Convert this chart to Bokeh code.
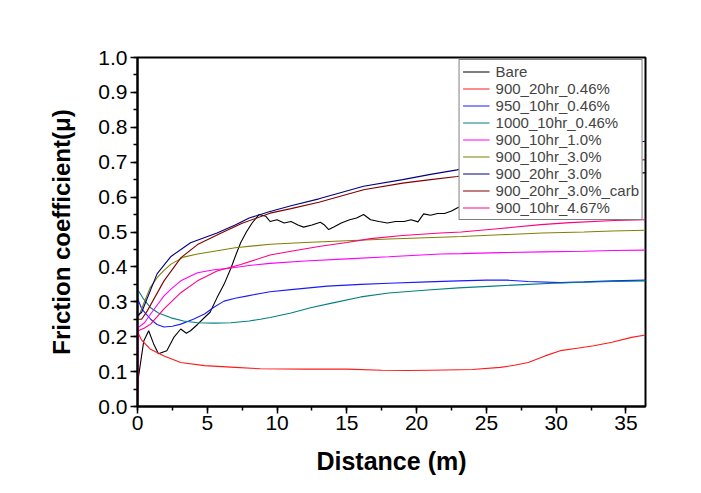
from bokeh.plotting import figure
from bokeh.models import Range1d, SingleIntervalTicker, NumeralTickFormatter, Legend, LegendItem
from bokeh.embed import file_html
from bokeh.resources import INLINE

# ---- data ----
bare_x = [0, 0.05, 0.2, 0.45, 0.8, 1.15, 1.5, 2.1, 2.6, 3.1, 3.5, 3.8, 4.3, 4.8, 5.2, 5.7, 6.2, 6.7, 7.1, 7.4, 7.8,
          8.2, 8.7, 9.2, 9.5, 10.0, 10.5, 11.0, 11.5, 11.9, 12.5, 13.1, 13.4, 13.7, 14.1, 14.6, 15.2, 15.7, 16.2,
          16.7, 17.3, 17.9, 18.5, 19.1, 19.6, 20.1, 20.5, 21.0, 21.5, 22.0, 22.5, 22.9, 23.5, 25, 28, 31, 34, 36.4]
bare_y = [0.0, 0.08, 0.12, 0.188, 0.217, 0.18, 0.151, 0.16, 0.198, 0.222, 0.21, 0.217, 0.235, 0.255, 0.27, 0.312,
          0.35, 0.397, 0.44, 0.47, 0.5, 0.525, 0.55, 0.545, 0.53, 0.535, 0.526, 0.53, 0.52, 0.514, 0.52, 0.528,
          0.52, 0.507, 0.515, 0.526, 0.535, 0.54, 0.55, 0.535, 0.53, 0.526, 0.53, 0.53, 0.535, 0.529, 0.552,
          0.548, 0.553, 0.553, 0.56, 0.569, 0.58, 0.6, 0.62, 0.64, 0.66, 0.67]

r046_x = [0, 0.05, 0.3, 0.9, 1.9, 3.1, 4.8, 7, 8.8, 12, 15, 17.5, 19.4, 21, 24, 26, 27, 28, 29.2, 30.3, 31.5,
          32.7, 34, 35.4, 36.4]
r046_y = [0.0, 0.21, 0.19, 0.165, 0.145, 0.126, 0.117, 0.112, 0.108, 0.107, 0.107, 0.104, 0.103, 0.104, 0.106,
          0.112, 0.118, 0.126, 0.145, 0.16, 0.167, 0.174, 0.184, 0.198, 0.205]

b950_x = [0, 0.3, 0.94, 1.4, 1.9, 2.5, 3.1, 4.0, 4.8, 5.5, 6.2, 7.0, 7.9, 8.8, 9.5, 11, 13.6, 16, 18, 20.8, 23,
          25, 26.5, 28, 30.3, 32, 34, 36.4]
b950_y = [0.31, 0.28, 0.25, 0.235, 0.228, 0.23, 0.236, 0.25, 0.265, 0.285, 0.302, 0.31, 0.317, 0.324, 0.329,
          0.335, 0.345, 0.35, 0.353, 0.357, 0.36, 0.362, 0.362, 0.358, 0.355, 0.357, 0.36, 0.362]

t1000_x = [0, 0.4, 0.94, 1.5, 2.4, 3.3, 4.3, 5.5, 6.7, 8, 8.8, 9.5, 11, 12.4, 14, 16, 18, 20.8, 23, 25.5, 28,
           29.8, 32, 34, 36.4]
t1000_y = [0.336, 0.31, 0.283, 0.268, 0.254, 0.245, 0.24, 0.239, 0.24, 0.245, 0.25, 0.255, 0.268, 0.283, 0.297,
           0.314, 0.325, 0.334, 0.34, 0.345, 0.35, 0.353, 0.356, 0.358, 0.36]

m10_x = [0, 0.05, 0.5, 0.94, 1.4, 1.9, 2.5, 3.1, 3.7, 4.3, 5.5, 6.7, 8, 9.5, 12, 15, 18, 21.7, 23.2, 26, 29, 32,
         34, 36.4]
m10_y = [0.0, 0.226, 0.24, 0.265, 0.29, 0.317, 0.34, 0.36, 0.372, 0.383, 0.392, 0.397, 0.404, 0.41, 0.417,
         0.423, 0.429, 0.437, 0.438, 0.441, 0.443, 0.445, 0.447, 0.448]

o30_x = [0, 0.5, 0.9, 1.4, 1.9, 2.4, 3.3, 4.3, 5.5, 7, 9.5, 12, 15, 18, 21.7, 23.2, 26, 29, 32, 34, 36.4]
o30_y = [0.25, 0.3, 0.34, 0.369, 0.39, 0.408, 0.428, 0.437, 0.445, 0.455, 0.465, 0.47, 0.475, 0.48, 0.485,
         0.487, 0.492, 0.497, 0.5, 0.503, 0.505]

n30_x = [0, 0.3, 0.7, 1.4, 2.4, 3.8, 5.7, 7, 8, 9.5, 11, 13, 16.2, 19, 21, 22.9, 24, 27, 30, 33, 36.4]
n30_y = [0.26, 0.27, 0.31, 0.38, 0.43, 0.469, 0.497, 0.52, 0.54, 0.559, 0.575, 0.595, 0.631, 0.65, 0.665,
         0.678, 0.69, 0.71, 0.73, 0.745, 0.76]

c30_x = [0, 0.3, 0.7, 1.9, 3.1, 4.3, 6, 7.5, 9.5, 11, 13, 16.2, 19, 21, 22.9, 25, 28, 31, 34, 36.4]
c30_y = [0.25, 0.25, 0.274, 0.36, 0.426, 0.464, 0.497, 0.525, 0.554, 0.567, 0.585, 0.621, 0.64, 0.65, 0.659,
         0.67, 0.685, 0.695, 0.703, 0.707]

p467_x = [0, 0.05, 0.5, 0.94, 1.9, 3.1, 4.3, 5.7, 7.4, 9.5, 11, 13.1, 15, 16.7, 19, 21.7, 23.2, 26, 28.9, 31,
          34.2, 36.4]
p467_y = [0.0, 0.217, 0.225, 0.236, 0.28, 0.326, 0.36, 0.388, 0.407, 0.434, 0.445, 0.459, 0.47, 0.481, 0.49,
          0.497, 0.5, 0.51, 0.521, 0.527, 0.533, 0.535]

series_names = ["Bare", "900_20hr_0.46%", "950_10hr_0.46%", "1000_10hr_0.46%", "900_10hr_1.0%",
                "900_10hr_3.0%", "900_20hr_3.0%", "900_20hr_3.0%_carb", "900_10hr_4.67%"]
series_colors = ["#000000", "#ff1a1a", "#1a1aff", "#008080", "#ff00ff",
                 "#808000", "#000080", "#800000", "#ff0080"]
series_data = [(bare_x, bare_y), (r046_x, r046_y), (b950_x, b950_y), (t1000_x, t1000_y), (m10_x, m10_y),
               (o30_x, o30_y), (n30_x, n30_y), (c30_x, c30_y), (p467_x, p467_y)]

x_ticks_interval = 5
y_ticks_interval = 0.1

# ---- figure ----
p = figure(width=685, height=477, output_backend="svg", toolbar_location=None,
           x_range=Range1d(0, 36.4), y_range=Range1d(0, 1.0),
           min_border_left=137, min_border_right=40, min_border_top=57, min_border_bottom=71)
p.background_fill_color = "white"
p.border_fill_color = "white"
p.grid.visible = False
p.outline_line_color = "black"
p.outline_line_width = 2

items = []
for name, col, (xs, ys) in zip(series_names, series_colors, series_data):
    r = p.line(xs, ys, line_color=col, line_width=1.1)
    items.append(LegendItem(label=name, renderers=[r]))

font = "Liberation Sans"
for ax in (p.xaxis[0], p.yaxis[0]):
    ax.axis_line_width = 2
    ax.major_tick_line_width = 1.5
    ax.minor_tick_line_width = 1.5
    ax.major_tick_out = 7
    ax.major_tick_in = 0
    ax.minor_tick_out = 4
    ax.minor_tick_in = 0
    ax.major_label_text_font = font
    ax.major_label_text_font_size = "21px"
    ax.major_label_text_color = "black"
    ax.axis_label_text_font = font
    ax.axis_label_text_font_style = "bold"
    ax.axis_label_text_color = "black"

p.xaxis.axis_label_text_font_size = "25px"
p.yaxis.axis_label_text_font_size = "24px"
p.xaxis.ticker = SingleIntervalTicker(interval=x_ticks_interval, num_minor_ticks=2)
p.yaxis.ticker = SingleIntervalTicker(interval=y_ticks_interval, num_minor_ticks=2)
p.yaxis.formatter = NumeralTickFormatter(format="0.0")
p.xaxis.axis_label = "Distance (m)"
p.yaxis.axis_label = "Friction coefficient(\u03bc)"
p.xaxis.major_label_standoff = 2
p.yaxis.major_label_standoff = 3
p.xaxis.axis_label_standoff = 14
p.yaxis.axis_label_standoff = 20

legend = Legend(items=items, location="top_right")
legend.margin = 2
legend.padding = 3
legend.spacing = 0
legend.label_text_font = font
legend.label_text_font_size = "15px"
legend.label_height = 17
legend.glyph_height = 17
legend.glyph_width = 27
legend.label_standoff = 6
legend.border_line_color = "black"
legend.border_line_width = 1.5
legend.background_fill_alpha = 1.0
p.add_layout(legend, "center")

open("out.html", "w").write(file_html(p, INLINE))
